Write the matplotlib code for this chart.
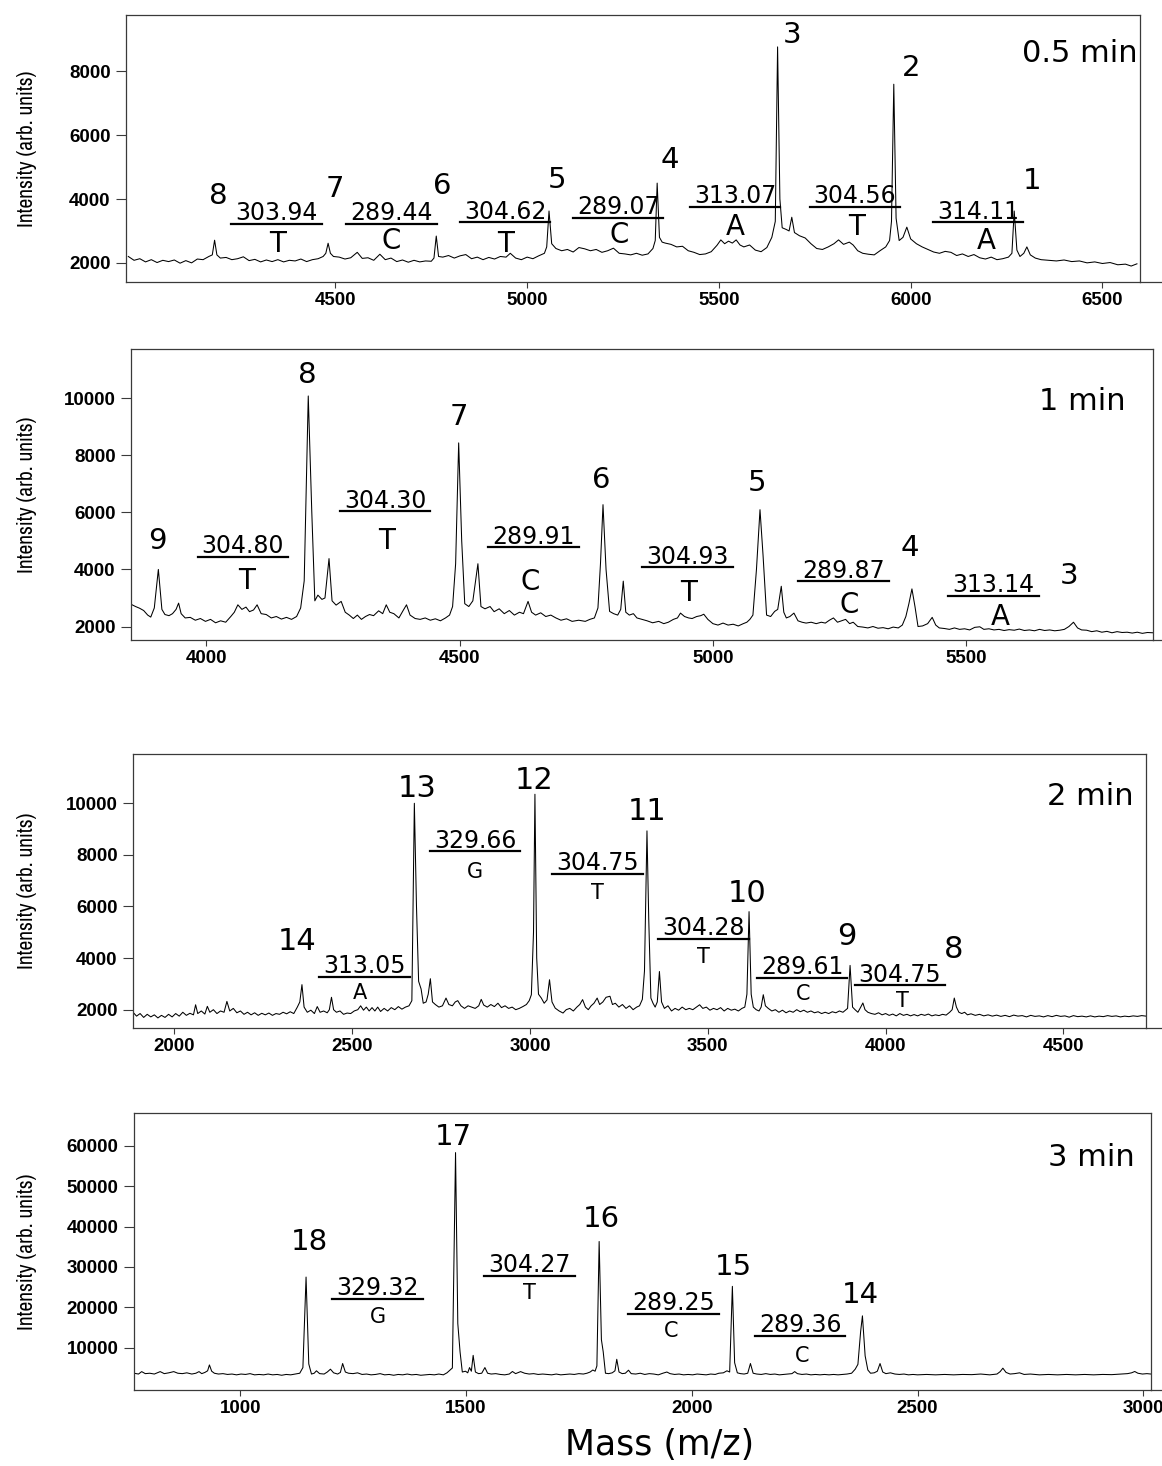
import matplotlib
matplotlib.use('Agg')
import matplotlib.pyplot as plt
from matplotlib import font_manager
from matplotlib.lines import Line2D

# ---------------- data ----------------
# 0.5 min
p1_trace = [
    (3960, 2200), (3975, 2080), (3990, 2130), (4005, 2030), (4020, 2100), (4035, 2010),
    (4050, 2080), (4065, 2040), (4080, 2090), (4095, 1990), (4110, 2070), (4125, 2000),
    (4140, 2120), (4155, 2100), (4170, 2200), (4179, 2250), (4185, 2710), (4191, 2250),
    (4200, 2150), (4215, 2170), (4230, 2100), (4245, 2130), (4260, 2190), (4275, 2070),
    (4290, 2110), (4305, 2030), (4320, 2090), (4335, 2040), (4350, 2100), (4365, 2030),
    (4380, 2080), (4395, 2060), (4410, 2120), (4425, 2040), (4440, 2100), (4455, 2130),
    (4468, 2200), (4475, 2300), (4481, 2615), (4487, 2300), (4495, 2200), (4510, 2180),
    (4525, 2120), (4540, 2160), (4557, 2330), (4570, 2140), (4585, 2160), (4600, 2080),
    (4616, 2270), (4630, 2100), (4645, 2150), (4660, 2040), (4675, 2090), (4690, 2020),
    (4705, 2080), (4720, 2030), (4735, 2060), (4750, 2050), (4757, 2150), (4763, 2840),
    (4769, 2200), (4780, 2180), (4795, 2230), (4810, 2150), (4825, 2220), (4840, 2260),
    (4855, 2130), (4870, 2180), (4885, 2100), (4900, 2170), (4915, 2120), (4930, 2200),
    (4945, 2180), (4956, 2300), (4970, 2150), (4985, 2100), (5000, 2180), (5015, 2130),
    (5030, 2220), (5045, 2300), (5051, 2500), (5057, 3625), (5064, 2600), (5075, 2450),
    (5090, 2380), (5105, 2420), (5120, 2340), (5135, 2480), (5150, 2440), (5165, 2380),
    (5180, 2420), (5195, 2330), (5210, 2380), (5225, 2460), (5240, 2300), (5255, 2280),
    (5270, 2250), (5285, 2300), (5300, 2240), (5315, 2280), (5328, 2450), (5334, 2700),
    (5339, 4500), (5345, 2800), (5352, 2650), (5360, 2620), (5375, 2580), (5390, 2500),
    (5405, 2520), (5420, 2380), (5435, 2330), (5450, 2260), (5465, 2280), (5480, 2350),
    (5495, 2550), (5505, 2720), (5515, 2600), (5525, 2680), (5535, 2620), (5545, 2720),
    (5555, 2560), (5565, 2500), (5580, 2560), (5595, 2400), (5610, 2350), (5625, 2480),
    (5638, 2800), (5647, 3300), (5653, 8770), (5659, 4000), (5665, 3100), (5675, 3050),
    (5683, 3000), (5690, 3430), (5697, 2950), (5710, 2850), (5725, 2780), (5740, 2600),
    (5755, 2450), (5770, 2420), (5785, 2500), (5800, 2600), (5812, 2720), (5825, 2580),
    (5840, 2650), (5850, 2560), (5862, 2380), (5875, 2300), (5890, 2270), (5905, 2250),
    (5920, 2380), (5935, 2500), (5945, 2700), (5950, 3300), (5956, 7600), (5962, 3400),
    (5970, 2700), (5980, 2800), (5990, 3120), (6000, 2750), (6015, 2600), (6030, 2500),
    (6045, 2420), (6060, 2340), (6075, 2300), (6090, 2360), (6105, 2330), (6120, 2230),
    (6135, 2280), (6150, 2200), (6165, 2260), (6180, 2160), (6195, 2120), (6210, 2180),
    (6225, 2100), (6240, 2130), (6255, 2180), (6264, 2300), (6270, 3625), (6277, 2400),
    (6285, 2200), (6295, 2300), (6303, 2500), (6312, 2250), (6325, 2150), (6340, 2100),
    (6360, 2080), (6380, 2060), (6400, 2090), (6420, 2040), (6440, 2060), (6460, 2000),
    (6480, 2030), (6500, 1980), (6520, 2010), (6540, 1940), (6560, 1960), (6575, 1900),
    (6590, 1970),
]
p1_ids = ['8', '7', '6', '5', '4', '3', '2', '1']
p1_diffs = ['303.94', '289.44', '304.62', '289.07', '313.07', '304.56', '314.11']
p1_bases = ['T', 'C', 'T', 'C', 'A', 'T', 'A']

# 1 min
p2_trace = [
    (3851, 2780), (3860, 2700), (3868, 2640), (3876, 2560), (3884, 2400), (3890, 2330),
    (3897, 2650), (3905, 4000), (3912, 2600), (3918, 2420), (3926, 2380), (3933, 2450),
    (3940, 2600), (3945, 2820), (3950, 2450), (3958, 2300), (3968, 2320), (3978, 2220),
    (3988, 2280), (3998, 2180), (4008, 2250), (4018, 2130), (4028, 2200), (4038, 2150),
    (4048, 2350), (4055, 2500), (4062, 2760), (4070, 2600), (4078, 2680), (4085, 2520),
    (4093, 2580), (4100, 2760), (4108, 2450), (4118, 2420), (4128, 2300), (4138, 2350),
    (4148, 2260), (4158, 2320), (4168, 2250), (4178, 2350), (4186, 2650), (4193, 3600),
    (4201, 10080), (4208, 6000), (4214, 2900), (4220, 3100), (4228, 2950), (4234, 3000),
    (4242, 4380), (4248, 2900), (4256, 2750), (4266, 2880), (4274, 2500), (4282, 2400),
    (4290, 2280), (4298, 2400), (4306, 2250), (4314, 2350), (4322, 2420), (4330, 2380),
    (4340, 2550), (4348, 2450), (4355, 2760), (4362, 2500), (4370, 2450), (4380, 2300),
    (4388, 2550), (4395, 2760), (4402, 2400), (4412, 2280), (4422, 2250), (4432, 2300),
    (4442, 2220), (4452, 2270), (4462, 2200), (4472, 2300), (4480, 2400), (4486, 2700),
    (4492, 4200), (4498, 8435), (4504, 5000), (4510, 2800), (4518, 2700), (4526, 2900),
    (4536, 4200), (4542, 2700), (4550, 2620), (4560, 2700), (4568, 2520), (4578, 2620),
    (4588, 2450), (4598, 2560), (4608, 2400), (4618, 2500), (4626, 2450), (4635, 2880),
    (4642, 2500), (4650, 2400), (4660, 2480), (4670, 2350), (4680, 2400), (4690, 2300),
    (4700, 2220), (4711, 2270), (4722, 2180), (4735, 2220), (4748, 2180), (4757, 2250),
    (4766, 2300), (4773, 2650), (4778, 4200), (4783, 6270), (4789, 4000), (4796, 2530),
    (4804, 2450), (4812, 2400), (4818, 2600), (4823, 3590), (4828, 2500), (4835, 2400),
    (4843, 2450), (4850, 2300), (4860, 2250), (4870, 2200), (4881, 2130), (4893, 2180),
    (4903, 2100), (4912, 2150), (4922, 2250), (4930, 2300), (4936, 2470), (4944, 2350),
    (4952, 2300), (4959, 2280), (4968, 2350), (4976, 2380), (4982, 2430), (4990, 2250),
    (5000, 2100), (5010, 2050), (5020, 2120), (5030, 2050), (5040, 2080), (5050, 2020),
    (5060, 2100), (5067, 2150), (5073, 2250), (5079, 2400), (5086, 4000), (5093, 6094),
    (5099, 4500), (5106, 2400), (5114, 2350), (5122, 2530), (5128, 2600), (5135, 3410),
    (5140, 2500), (5145, 2300), (5152, 2350), (5160, 2470), (5168, 2200), (5176, 2150),
    (5184, 2120), (5194, 2150), (5204, 2100), (5214, 2150), (5222, 2120), (5230, 2220),
    (5238, 2300), (5246, 2150), (5254, 2200), (5262, 2250), (5270, 2100), (5277, 2150),
    (5286, 2000), (5296, 1980), (5306, 1950), (5316, 2000), (5326, 1940), (5336, 1960),
    (5346, 1920), (5356, 1980), (5366, 1950), (5374, 2050), (5381, 2350), (5387, 2800),
    (5393, 3318), (5399, 2700), (5405, 2000), (5414, 2020), (5424, 2100), (5433, 2320),
    (5440, 2050), (5447, 1950), (5457, 1930), (5467, 1900), (5477, 1950), (5487, 1900),
    (5497, 1920), (5507, 1880), (5517, 1970), (5527, 1990), (5535, 1900), (5545, 1920),
    (5555, 1880), (5565, 1900), (5575, 1860), (5585, 1890), (5595, 1870), (5605, 1910),
    (5615, 1860), (5625, 1880), (5635, 1850), (5645, 1900), (5655, 1860), (5665, 1880),
    (5675, 1850), (5685, 1870), (5694, 1900), (5703, 2000), (5712, 2150), (5720, 1950),
    (5728, 1880), (5738, 1870), (5748, 1820), (5758, 1850), (5768, 1800), (5778, 1830),
    (5788, 1780), (5798, 1820), (5808, 1790), (5818, 1800), (5828, 1770), (5838, 1800),
    (5848, 1760), (5858, 1790), (5869, 1780),
]
p2_ids = ['9', '8', '7', '6', '5', '4', '3']
p2_diffs = ['304.80', '304.30', '289.91', '304.93', '289.87', '313.14']
p2_bases = ['T', 'T', 'C', 'T', 'C', 'A']

# 2 min
p3_trace = [
    (1884, 1900), (1894, 1750), (1904, 1850), (1914, 1700), (1924, 1820), (1934, 1720),
    (1944, 1800), (1954, 1680), (1964, 1780), (1974, 1700), (1984, 1820), (1994, 1720),
    (2004, 1850), (2014, 1750), (2024, 1900), (2034, 1780), (2044, 1860), (2054, 1800),
    (2060, 2190), (2066, 1850), (2076, 1950), (2086, 1830), (2093, 2130), (2100, 1900),
    (2110, 2000), (2120, 1850), (2130, 1950), (2140, 1900), (2148, 2320), (2156, 1950),
    (2166, 2050), (2176, 1880), (2186, 1950), (2196, 1820), (2206, 1900), (2216, 1800),
    (2226, 1880), (2236, 1780), (2246, 1860), (2256, 1800), (2266, 1870), (2276, 1780),
    (2286, 1850), (2296, 1820), (2306, 1900), (2316, 1840), (2326, 1920), (2336, 1850),
    (2346, 2100), (2353, 2300), (2359, 2970), (2365, 2100), (2374, 1900), (2384, 1980),
    (2394, 1850), (2402, 2120), (2410, 1900), (2420, 1950), (2430, 1880), (2436, 2000),
    (2442, 2480), (2448, 2000), (2456, 1900), (2466, 1950), (2476, 1820), (2486, 1870),
    (2496, 1850), (2506, 1950), (2516, 2000), (2524, 2150), (2532, 1980), (2540, 2100),
    (2548, 1950), (2556, 2080), (2564, 1950), (2572, 2100), (2580, 1930), (2590, 2050),
    (2600, 1950), (2610, 2080), (2620, 2000), (2630, 2120), (2640, 2020), (2650, 2100),
    (2660, 2150), (2668, 2350), (2675, 10000), (2681, 6000), (2687, 3100), (2694, 2800),
    (2700, 2250), (2708, 2300), (2714, 2600), (2720, 3200), (2726, 2300), (2734, 2200),
    (2744, 2100), (2754, 2150), (2764, 2450), (2772, 2200), (2782, 2150), (2790, 2300),
    (2797, 2350), (2806, 2150), (2816, 2050), (2826, 2150), (2836, 2100), (2846, 2050),
    (2856, 2150), (2863, 2400), (2870, 2180), (2880, 2100), (2890, 2200), (2900, 2120),
    (2910, 2250), (2920, 2080), (2930, 2150), (2940, 2050), (2950, 2100), (2960, 2000),
    (2970, 2050), (2980, 2120), (2990, 2200), (2998, 2350), (3004, 2580), (3010, 5000),
    (3014, 10350), (3019, 4000), (3024, 2600), (3032, 2450), (3040, 2250), (3048, 2380),
    (3055, 3160), (3062, 2300), (3071, 2060), (3082, 1950), (3093, 1870), (3102, 2000),
    (3112, 2050), (3122, 1950), (3132, 2100), (3140, 2200), (3148, 2390), (3156, 2100),
    (3164, 2000), (3172, 2150), (3180, 2250), (3189, 2450), (3196, 2200), (3205, 2300),
    (3214, 2480), (3225, 2520), (3232, 2200), (3240, 2250), (3250, 2100), (3260, 2200),
    (3270, 2050), (3280, 2150), (3290, 2000), (3300, 2100), (3308, 2150), (3316, 2400),
    (3322, 3500), (3329, 8930), (3334, 5500), (3340, 2450), (3346, 2250), (3352, 2100),
    (3358, 2300), (3364, 3480), (3370, 2300), (3378, 2050), (3388, 2150), (3398, 1950),
    (3408, 2050), (3418, 1980), (3428, 2100), (3438, 2000), (3448, 2050), (3458, 2000),
    (3468, 2100), (3477, 2190), (3486, 2050), (3496, 2100), (3506, 1980), (3516, 2050),
    (3526, 2000), (3536, 2080), (3546, 1950), (3556, 2050), (3566, 1980), (3576, 2020),
    (3586, 1950), (3596, 2050), (3604, 2100), (3610, 2600), (3616, 5800), (3622, 2600),
    (3628, 2100), (3636, 2000), (3644, 1950), (3650, 2100), (3656, 2580), (3662, 2150),
    (3670, 2050), (3680, 1950), (3690, 2000), (3700, 1900), (3710, 1980), (3720, 1880),
    (3730, 1950), (3740, 1900), (3750, 2000), (3760, 1920), (3770, 1980), (3780, 1900),
    (3790, 1950), (3800, 1880), (3810, 1920), (3820, 1850), (3830, 1900), (3840, 1850),
    (3850, 1920), (3860, 1880), (3870, 1950), (3880, 1900), (3893, 2050), (3900, 3716),
    (3907, 2100), (3914, 2000), (3922, 1900), (3930, 2100), (3936, 2260), (3942, 2000),
    (3950, 1900), (3960, 1850), (3970, 1820), (3980, 1880), (3990, 1800), (4000, 1850),
    (4010, 1780), (4020, 1830), (4030, 1760), (4040, 1850), (4050, 1780), (4060, 1820),
    (4070, 1760), (4080, 1810), (4090, 1760), (4100, 1820), (4110, 1780), (4120, 1830),
    (4130, 1760), (4140, 1800), (4150, 1770), (4160, 1820), (4170, 1790), (4180, 1900),
    (4187, 2000), (4193, 2450), (4199, 2100), (4206, 1900), (4214, 1850), (4222, 1900),
    (4230, 1800), (4240, 1840), (4252, 1780), (4264, 1820), (4276, 1760), (4288, 1800),
    (4300, 1750), (4312, 1790), (4324, 1740), (4336, 1780), (4348, 1730), (4360, 1790),
    (4372, 1750), (4384, 1770), (4396, 1720), (4408, 1780), (4420, 1740), (4432, 1760),
    (4444, 1720), (4456, 1770), (4468, 1730), (4480, 1780), (4492, 1740), (4504, 1760),
    (4516, 1710), (4528, 1770), (4540, 1730), (4552, 1750), (4564, 1720), (4576, 1760),
    (4588, 1720), (4600, 1750), (4612, 1730), (4624, 1770), (4636, 1740), (4648, 1760),
    (4660, 1720), (4672, 1750), (4684, 1730), (4696, 1760), (4708, 1740), (4720, 1770),
    (4732, 1750),
]
p3_ids = ['14', '13', '12', '11', '10', '9', '8']
p3_diffs = ['313.05', '329.66', '304.75', '304.28', '289.61', '304.75']
p3_bases = ['A', 'G', 'T', 'T', 'C', 'T']

# 3 min
p4_trace = [
    (765, 3700), (775, 3500), (782, 4100), (790, 3600), (800, 3700), (810, 3500),
    (823, 4100), (832, 3600), (842, 3800), (853, 4100), (862, 3700), (872, 3600),
    (882, 3800), (893, 3500), (902, 3700), (909, 4100), (915, 3600), (922, 3900),
    (928, 4300), (932, 5760), (937, 4200), (943, 3700), (952, 3500), (962, 3600),
    (972, 3400), (982, 3500), (992, 3300), (1002, 3500), (1012, 3400), (1022, 3600),
    (1032, 3300), (1042, 3400), (1052, 3300), (1062, 3500), (1072, 3300), (1082, 3400),
    (1092, 3200), (1102, 3400), (1112, 3300), (1122, 3500), (1132, 3700), (1139, 5100),
    (1146, 27500), (1152, 6000), (1158, 3500), (1164, 3700), (1169, 4300), (1176, 3600),
    (1186, 3500), (1193, 4000), (1200, 4700), (1207, 3800), (1216, 3500), (1222, 3900),
    (1227, 6100), (1233, 4000), (1240, 3700), (1250, 3600), (1260, 3800), (1270, 3400),
    (1280, 3500), (1290, 3300), (1300, 3400), (1310, 3600), (1320, 3300), (1330, 3400),
    (1340, 3200), (1350, 3400), (1360, 3300), (1370, 3500), (1380, 3300), (1390, 3400),
    (1400, 3200), (1410, 3300), (1420, 3400), (1430, 3300), (1440, 3500), (1450, 3300),
    (1458, 3800), (1463, 4300), (1470, 5000), (1477, 58300), (1482, 16000), (1487, 9000),
    (1492, 4000), (1499, 4200), (1504, 3800), (1508, 5100), (1512, 4200), (1516, 8120),
    (1521, 4000), (1528, 3600), (1535, 3700), (1542, 5100), (1548, 3700), (1556, 3500),
    (1566, 3600), (1576, 3400), (1586, 3300), (1596, 3500), (1603, 4130), (1610, 3600),
    (1621, 4100), (1630, 3700), (1640, 3500), (1650, 3600), (1660, 3400), (1670, 3500),
    (1680, 3400), (1690, 3300), (1700, 3500), (1710, 3300), (1720, 3400), (1730, 3500),
    (1740, 3400), (1750, 3600), (1760, 3500), (1768, 3700), (1775, 4000), (1781, 4500),
    (1786, 4200), (1790, 5500), (1795, 36300), (1800, 12000), (1804, 9000), (1809, 3700),
    (1816, 3600), (1824, 3800), (1830, 4300), (1834, 7150), (1839, 4000), (1846, 3600),
    (1853, 3700), (1860, 4450), (1866, 3600), (1876, 3500), (1886, 3700), (1896, 3400),
    (1906, 3600), (1916, 3500), (1926, 3300), (1936, 3700), (1945, 4000), (1952, 3600),
    (1962, 3400), (1972, 3500), (1982, 3300), (1992, 3400), (2002, 3300), (2012, 3500),
    (2022, 3400), (2032, 3300), (2042, 3500), (2052, 3400), (2060, 3700), (2070, 3800),
    (2078, 4300), (2084, 4000), (2090, 25200), (2095, 6300), (2101, 3800), (2108, 3600),
    (2116, 3500), (2124, 3700), (2130, 6100), (2136, 3700), (2144, 3500), (2154, 3400),
    (2164, 3600), (2174, 3400), (2184, 3500), (2194, 3300), (2204, 3400), (2214, 3500),
    (2222, 3600), (2228, 4100), (2234, 3600), (2244, 3400), (2254, 3500), (2264, 3300),
    (2274, 3400), (2284, 3300), (2294, 3400), (2304, 3300), (2314, 3400), (2324, 3300),
    (2334, 3400), (2344, 3500), (2354, 3700), (2362, 4700), (2368, 5900), (2374, 14000),
    (2378, 17900), (2384, 8000), (2390, 4500), (2396, 3700), (2404, 3800), (2411, 4200),
    (2417, 6100), (2423, 4000), (2430, 3600), (2440, 3800), (2450, 3500), (2460, 3400),
    (2470, 3500), (2480, 3300), (2490, 3400), (2500, 3300), (2520, 3400), (2540, 3300),
    (2560, 3400), (2580, 3300), (2600, 3400), (2620, 3350), (2640, 3500), (2660, 3300),
    (2676, 3500), (2683, 4100), (2689, 4950), (2696, 3900), (2705, 3500), (2715, 3600),
    (2726, 3800), (2736, 3400), (2750, 3500), (2770, 3300), (2790, 3400), (2810, 3300),
    (2830, 3400), (2850, 3300), (2870, 3400), (2890, 3300), (2910, 3400), (2930, 3350),
    (2950, 3500), (2965, 3600), (2974, 3800), (2981, 4130), (2988, 3700), (2998, 3500),
    (3008, 3600), (3017, 3500),
]
p4_ids = ['18', '17', '16', '15', '14']
p4_diffs = ['329.32', '304.27', '289.25', '289.36']
p4_bases = ['G', 'T', 'C', 'C']

times = ['0.5 min', '1 min', '2 min', '3 min']

# ---------------- layout ----------------
W, H = 1162, 1466


def px_rect(l, r, t, b):
    return [l / W, 1 - b / H, (r - l) / W, (b - t) / H]


layout = [
    dict(rect=px_rect(126, 1140, 15, 282), xlim=(3954, 6598), ylim=(1400, 9770),
         xticks=[4500, 5000, 5500, 6000, 6500], yticks=[2000, 4000, 6000, 8000],
         id_xy=[(4195, 4090), (4498, 4300), (4778, 4400), (5079, 4600), (5373, 5230),
                (5692, 9150), (6002, 8100), (6318, 4560)],
         diff_xy=[(4346, 3560), (4646, 3560), (4943, 3600), (5237, 3750), (5542, 4090),
                  (5855, 4090), (6175, 3600)],
         base_xy=[(4350, 2600), (4646, 2700), (4945, 2600), (5240, 2880), (5542, 3120),
                  (5860, 3120), (6198, 2690)],
         time_xy=(0.998, 0.856), ext=0.022, id_fs=21, diff_fs=17, base_fs=20),
    dict(rect=px_rect(131, 1153, 349, 640), xlim=(3851, 5869), ylim=(1527, 11726),
         xticks=[4000, 4500, 5000, 5500], yticks=[2000, 4000, 6000, 8000, 10000],
         id_xy=[(3904, 5000), (4199, 10820), (4499, 9330), (4779, 7120), (5087, 7020),
                (5389, 4760), (5703, 3760)],
         diff_xy=[(4072, 4820), (4353, 6410), (4646, 5140), (4950, 4440), (5258, 3960),
                  (5554, 3450)],
         base_xy=[(4080, 3610), (4355, 5000), (4640, 3560), (4952, 3180), (5269, 2760),
                  (5567, 2350)],
         time_xy=(0.973, 0.82), ext=0.009, id_fs=21, diff_fs=17, base_fs=20),
    dict(rect=px_rect(133, 1146, 754, 1028), xlim=(1884, 4732), ylim=(1290, 11910),
         xticks=[2000, 2500, 3000, 3500, 4000, 4500], yticks=[2000, 4000, 6000, 8000, 10000],
         id_xy=[(2346, 4650), (2683, 10580), (3011, 10900), (3328, 9680), (3611, 6520),
                (3891, 4840), (4192, 4320)],
         diff_xy=[(2535, 3680), (2846, 8540), (3190, 7680), (3488, 5160), (3765, 3650),
                  (4040, 3350)],
         base_xy=[(2522, 2650), (2846, 7330), (3190, 6520), (3488, 4060), (3768, 2600),
                  (4048, 2350)],
         time_xy=(0.988, 0.845), ext=0.016, id_fs=22, diff_fs=17, base_fs=15),
    dict(rect=px_rect(134, 1151, 1113, 1390), xlim=(765, 3017), ylim=(-450, 68100),
         xticks=[1000, 1500, 2000, 2500, 3000],
         yticks=[10000, 20000, 30000, 40000, 50000, 60000],
         id_xy=[(1154, 36100), (1472, 62200), (1800, 41800), (2092, 30000), (2374, 23050)],
         diff_xy=[(1304, 24680), (1641, 30400), (1959, 21000), (2240, 15550)],
         base_xy=[(1305, 17500), (1641, 23460), (1955, 14080), (2245, 7960)],
         time_xy=(0.984, 0.84), ext=0.011, id_fs=21, diff_fs=17, base_fs=15),
]

traces = [p1_trace, p2_trace, p3_trace, p4_trace]
ids = [p1_ids, p2_ids, p3_ids, p4_ids]
diffs = [p1_diffs, p2_diffs, p3_diffs, p4_diffs]
bases = [p1_bases, p2_bases, p3_bases, p4_bases]

# fonts: a narrow face for the axis title if one is around
names = {f.name for f in font_manager.fontManager.ttflist}
narrow = [n for n in sorted(names) if 'Narrow' in n or 'Condensed' in n]
ylab_family = narrow[:1] + ['DejaVu Sans']
tickfont = ['Liberation Sans', 'DejaVu Sans']
labfont = ['DejaVu Sans']
frame_c = '#3a3a3a'

fig = plt.figure(figsize=(W / 100, H / 100), dpi=100)
underlined = []

for k, L in enumerate(layout):
    ax = fig.add_axes(L['rect'])
    mz = [p[0] for p in traces[k]]
    inten = [p[1] for p in traces[k]]
    ax.plot(mz, inten, color='black', lw=0.75)
    ax.set_xlim(*L['xlim'])
    ax.set_ylim(*L['ylim'])

    ax.set_xticks(L['xticks'], [str(t) for t in L['xticks']],
                  fontweight='bold', family=tickfont, fontsize=13.5)
    ax.set_yticks(L['yticks'], [str(t) for t in L['yticks']],
                  fontweight='bold', family=tickfont, fontsize=13.5)
    ax.tick_params(axis='y', direction='out', length=7, width=0.8, color=frame_c, pad=4)
    ax.tick_params(axis='x', direction='out', length=4.5, width=0.8, color=frame_c, pad=3)
    for sp in ax.spines.values():
        sp.set_linewidth(0.9)
        sp.set_color(frame_c)
    # bottom axis line runs a little past the frame, as in the scan
    ax.plot([1, 1 + L['ext']], [0, 0], transform=ax.transAxes, clip_on=False,
            color=frame_c, lw=0.9)

    width_px = L['rect'][2] * W
    left_px = L['rect'][0] * W
    ax.set_ylabel('Intensity (arb. units)', family=ylab_family, fontstretch='condensed',
                  fontsize=15.5)
    ax.yaxis.set_label_coords((37 - left_px) / width_px, 0.5)

    for lab, (x, y) in zip(ids[k], L['id_xy']):
        ax.text(x, y, lab, ha='center', va='center', fontsize=L['id_fs'], family=labfont)
    for lab, (x, y) in zip(diffs[k], L['diff_xy']):
        t = ax.text(x, y, lab, ha='center', va='center', fontsize=L['diff_fs'], family=labfont)
        underlined.append(t)
    for lab, (x, y) in zip(bases[k], L['base_xy']):
        ax.text(x, y, lab, ha='center', va='center', fontsize=L['base_fs'], family=labfont)
    ax.text(L['time_xy'][0], L['time_xy'][1], times[k], transform=ax.transAxes,
            ha='right', va='center', fontsize=22, family=labfont)

fig.text(660 / W, 1 - 1445 / H, 'Mass (m/z)', ha='center', va='center',
         fontsize=25, family=labfont)

# underline the mass-difference labels
fig.canvas.draw()
rend = fig.canvas.get_renderer()
inv = fig.transFigure.inverted()
for t in underlined:
    bb = t.get_window_extent(rend)
    (x0, y0), (x1, _) = inv.transform([(bb.x0 - 4, bb.y0 + 1.5), (bb.x1 + 4, bb.y0 + 1.5)])
    fig.add_artist(Line2D([x0, x1], [y0, y0], transform=fig.transFigure,
                          color='black', lw=1.6))

fig.savefig('out.png', dpi=100)
